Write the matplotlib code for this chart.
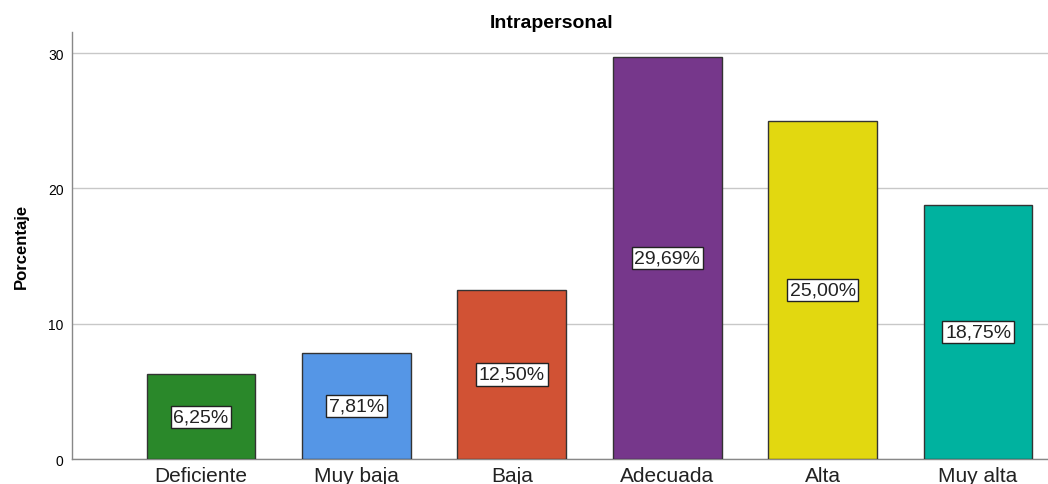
import matplotlib.pyplot as plt

# Datos
categorias = ['Deficiente', 'Muy baja', 'Baja', 'Adecuada', 'Alta', 'Muy alta']
porcentajes = [6.25, 7.81, 12.50, 29.69, 25.00, 18.75]
etiquetas = ['6,25%', '7,81%', '12,50%', '29,69%', '25,00%', '18,75%']
colores = ['#2a882a', '#5596e6', '#d15234', '#76378b', '#e2d810', '#00b29f']

plt.rcParams['font.family'] = ['Liberation Sans', 'DejaVu Sans']

fig = plt.figure(figsize=(10.48, 4.85), dpi=100)
ax = fig.add_axes([0.0687, 0.0515, 0.9313, 0.880])

x = list(range(len(categorias)))
ax.bar(x, porcentajes, width=0.70, color=colores, edgecolor='#333333', linewidth=1, zorder=3)

for xi, v, txt in zip(x, porcentajes, etiquetas):
    ax.text(xi, v / 2, txt, ha='center', va='center', fontsize=14, color='#222222', zorder=4,
            bbox=dict(boxstyle='square,pad=0.14', facecolor='white', edgecolor='#222222', linewidth=1))

ax.set_xlim(-0.83, 5.45)
ax.set_ylim(0, 31.55)
ax.set_yticks([0, 10, 20, 30])
ax.set_xticks(x)
ax.set_xticklabels(categorias, fontsize=15, color='#222222')
ax.tick_params(axis='y', labelsize=10, length=0, pad=6)
ax.tick_params(axis='x', length=0, pad=5)
ax.yaxis.grid(True, color='#c8c8c8', linewidth=1, zorder=0)
ax.set_axisbelow(True)

for s in ['top', 'right']:
    ax.spines[s].set_visible(False)
for s in ['left', 'bottom']:
    ax.spines[s].set_color('#888888')
    ax.spines[s].set_linewidth(1)

ax.set_ylabel('Porcentaje', fontsize=12, fontweight='bold', labelpad=14)
ax.set_title('Intrapersonal', fontsize=14, fontweight='bold', pad=4, x=0.491)

fig.savefig('out.png', dpi=100)
